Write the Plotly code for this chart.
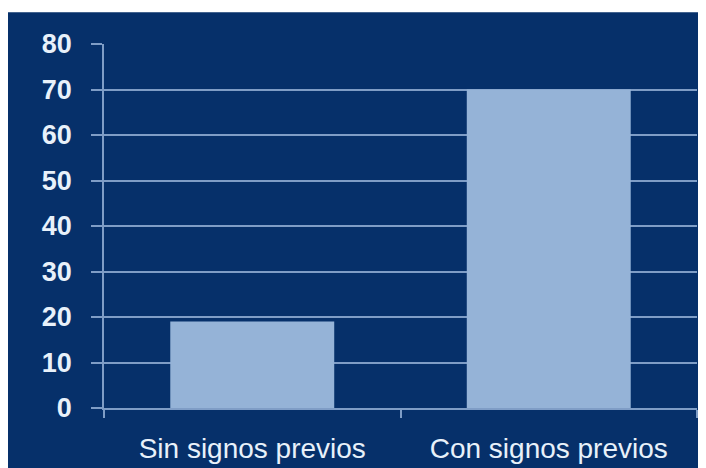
import plotly.graph_objects as go

categories = ["Sin signos previos", "Con signos previos"]
values = [19, 70]
y_ticks = [0, 10, 20, 30, 40, 50, 60, 70, 80]

navy = "#06306a"
bar_color = "#95b3d7"
grid_color = "#7f9dc6"
text_color = "#e8f1fa"
font_family = "Liberation Sans, Arial"

# page body has an 8px margin; margins below compensate so the plot lands where the reference has it
L, R, T, B = 96, 17, 36, 66
W, H = 706, 468
pw, ph = W - L - R, H - T - B

fig = go.Figure()
fig.add_trace(go.Bar(
    x=categories, y=values,
    marker=dict(color=bar_color, line=dict(width=0)),
))

fig.update_layout(
    width=W, height=H,
    margin=dict(l=L, r=R, t=T, b=B),
    paper_bgcolor="white",
    plot_bgcolor="rgba(0,0,0,0)",
    bargap=0.447,
    showlegend=False,
    shapes=[dict(type="rect", xref="paper", yref="paper",
                 x0=-L / pw, x1=1 + R / pw, y0=-B / ph, y1=1 + (T - 4) / ph,
                 fillcolor=navy, line=dict(width=0), layer="below")],
    font=dict(family=font_family, color=text_color),
)
fig.update_yaxes(
    range=[0, 80], tickvals=y_ticks,
    showgrid=True, gridcolor=grid_color, gridwidth=1.5,
    showline=True, linecolor=grid_color, linewidth=1.5,
    ticks="outside", ticklen=11, tickcolor=grid_color, tickwidth=1.5,
    ticklabelstandoff=14,
    tickfont=dict(size=27, color=text_color, family=font_family, weight="bold"),
    zeroline=False,
)
fig.update_xaxes(
    showline=True, linecolor=grid_color, linewidth=1.5,
    ticks="outside", ticklen=8, tickcolor=grid_color, tickwidth=1.5,
    tickson="boundaries",
    ticklabelstandoff=15,
    tickfont=dict(size=28, color=text_color, family=font_family),
)

fig.write_html("out.html")
